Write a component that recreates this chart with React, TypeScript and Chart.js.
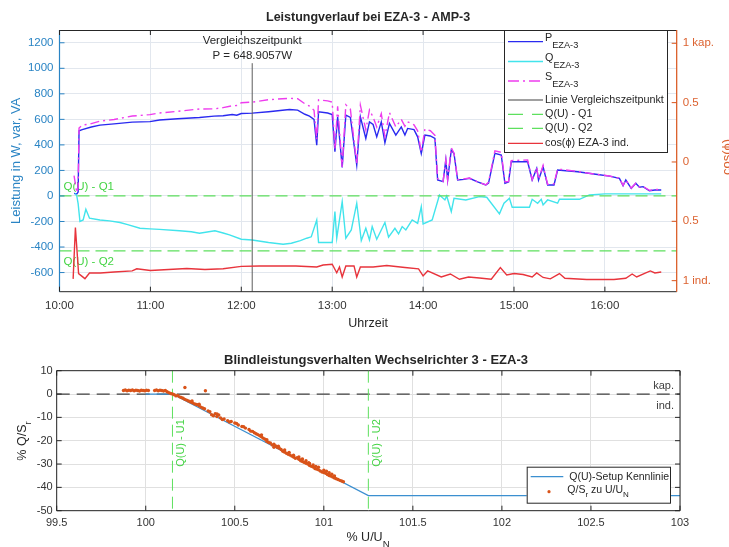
import React, { useEffect, useRef } from "react";
import { Chart, registerables } from "chart.js";

Chart.register(...registerables);

const FONT = "'Liberation Sans', Arial, Helvetica, sans-serif";

// ---------- top chart data ----------
const timeMin = 0;
const timeMax = 6.79;
const timeTicks = [0, 1, 2, 3, 4, 5, 6];
const timeLabels = ["10:00", "11:00", "12:00", "13:00", "14:00", "15:00", "16:00"];
const powerMin = -750;
const powerMax = 1300;
const powerTicks = [-600, -400, -200, 0, 200, 400, 600, 800, 1000, 1200];
const cosMin = -1.093;
const cosMax = 1.112;
const cosTicks = [-1, -0.5, 0, 0.5, 1];
const cosTickLabels = ["1 ind.", "0.5", "0", "0.5", "1 kap."];

const pTime = [0.16, 0.19, 0.205, 0.215, 0.25, 0.35, 0.445, 0.6, 0.8, 0.995,
  1.1, 1.3, 1.54, 1.7, 1.8, 1.9, 1.95, 2.0, 2.12, 2.3,
  2.53, 2.62, 2.7, 2.75, 2.8, 2.83, 2.85, 2.95, 3.0, 3.03,
  3.06, 3.11, 3.15, 3.2, 3.27, 3.31, 3.37, 3.41, 3.45, 3.49,
  3.54, 3.58, 3.63, 3.7, 3.76, 3.8, 3.83, 3.9, 3.94, 3.98,
  4.02, 4.08, 4.13, 4.16, 4.22, 4.25, 4.27, 4.31, 4.34, 4.38,
  4.45, 4.51, 4.6, 4.69, 4.72, 4.79, 4.86, 4.9, 4.94, 4.97,
  5.15, 5.2, 5.25, 5.27, 5.32, 5.37, 5.44, 5.48, 5.7, 5.9,
  6.05, 6.16, 6.2, 6.23, 6.29, 6.34, 6.38, 6.42, 6.49, 6.55, 6.62];
const pValues = [20, 15, 30, 510, 520, 540, 555, 565, 578, 582,
  595, 605, 615, 625, 628, 638, 632, 646, 649, 660,
  677, 672, 640, 625, 600, 398, 659, 650, 638, 346,
  620, 224, 633, 615, 242, 620, 451, 580, 560, 463,
  580, 417, 568, 477, 541, 477, 529, 520, 463, 333,
  477, 470, 451, 125, 112, 281, 125, 359, 333, 125,
  130, 138, 110, 86, 100, 333, 320, 99, 110, 268,
  268, 125, 216, 125, 229, 86, 86, 203, 190, 170,
  155, 138, 80, 125, 60, 99, 68, 73, 41, 47, 47];
const sValues = [160, 25, 65, 532, 554, 567, 586, 599, 626, 637,
  650, 663, 681, 682, 692, 707, 708, 730, 735, 754,
  765, 762, 722, 704, 671, 440, 753, 745, 735, 367,
  703, 228, 714, 680, 249, 711, 517, 674, 617, 540,
  644, 466, 653, 540, 600, 546, 581, 557, 510, 343,
  525, 511, 475, 135, 114, 283, 125, 379, 334, 129,
  134, 140, 110, 87, 108, 354, 342, 111, 112, 277,
  282, 128, 223, 129, 239, 91, 95, 211, 192, 170,
  156, 139, 82, 126, 62, 100, 70, 75, 44, 50, 50];

const qTime = [0.17, 0.19, 0.205, 0.225, 0.26, 0.29, 0.33, 0.445, 0.55, 0.665,
  0.75, 0.885, 0.995, 1.1, 1.32, 1.45, 1.54, 1.71, 1.8, 1.87,
  2.0, 2.12, 2.3, 2.46, 2.55, 2.65, 2.72, 2.77, 2.83, 2.85,
  3.0, 3.03, 3.05, 3.11, 3.15, 3.21, 3.27, 3.32, 3.37, 3.41,
  3.44, 3.49, 3.58, 3.62, 3.69, 3.73, 3.77, 3.81, 3.88, 3.94,
  3.98, 4.0, 4.1, 4.18, 4.24, 4.26, 4.31, 4.34, 4.47, 4.62,
  4.7, 4.84, 4.89, 4.95, 4.98, 5.17, 5.2, 5.26, 5.3, 5.32,
  5.37, 5.48, 5.5, 5.72, 5.83, 6.0, 6.3, 6.62];
const qValues = [21, 0, -60, -200, -188, -104, -174, -188, -195, -208,
  -225, -253, -258, -262, -273, -280, -292, -273, -290, -305,
  -339, -345, -365, -378, -370, -350, -331, -320, -188, -365,
  -365, -122, -331, -45, -331, -266, -57, -349, -253, -344,
  -240, -339, -208, -323, -253, -297, -240, -266, -188, -214,
  -83, -219, -188, 8, -31, 0, -122, -18, -31, -5,
  -10, -140, -57, -18, -88, -88, -26, -57, -26, -70,
  -31, -57, -26, -26, 8, 16, 16, 16];

const cosTime = [0.15, 0.175, 0.21, 0.28, 0.33, 0.45, 0.6, 0.8, 0.85, 1.0,
  1.2, 1.4, 1.6, 1.8, 2.0, 2.2, 2.4, 2.6, 2.83, 2.9,
  3.0, 3.05, 3.08, 3.11, 3.15, 3.24, 3.27, 3.31, 3.45, 3.6, 3.8,
  3.95, 4.0, 4.05, 4.2, 4.3, 4.4, 4.5, 4.62, 4.75, 4.85,
  4.92, 5.0, 5.1, 5.2, 5.25, 5.32, 5.4, 5.5, 5.56, 5.8,
  6.1, 6.23, 6.3, 6.35, 6.45, 6.5, 6.55, 6.62];
const cosValues = [-0.985, -0.553, -0.94, -0.983, -0.935, -0.935, -0.927, -0.918, -0.9, -0.914,
  -0.906, -0.897, -0.906, -0.9, -0.88, -0.876, -0.876, -0.876, -0.885, -0.868,
  -0.862, -0.933, -0.885, -0.969, -0.876, -0.876, -0.969, -0.885, -0.885, -0.872, -0.889,
  -0.9, -0.96, -0.918, -0.969, -0.944, -0.988, -0.969, -0.977, -0.988, -0.89,
  -0.952, -0.94, -0.948, -0.969, -0.935, -0.973, -0.985, -0.94, -0.98, -0.99,
  -0.99, -0.98, -0.944, -0.969, -0.935, -0.918, -0.935, -0.927];

const compareTime = 2.12;
const compareP = 648.9057;
const compareLineTop = 1040;
const q1Level = 0;
const q2Level = -430;

// ---------- bottom chart data ----------
const uMin = 99.5;
const uMax = 103;
const uTicks = [99.5, 100, 100.5, 101, 101.5, 102, 102.5, 103];
const qsMin = -50;
const qsMax = 10;
const qsTicks = [-50, -40, -30, -20, -10, 0, 10];
const u1Level = 100.15;
const u2Level = 101.25;
const kennU = [100, 100.15, 101.25, 103];
const kennQ = [0, 0, -43.5, -43.5];
const measU = [99.875, 99.885, 99.895, 99.905, 99.915, 99.925, 99.935, 99.945, 99.955, 99.965,
  99.975, 99.985, 99.995, 100.005, 100.015,
  100.05, 100.06, 100.07, 100.08, 100.09, 100.1, 100.11, 100.12, 100.13, 100.14,
  100.15, 100.16, 100.17, 100.18, 100.19, 100.2, 100.22, 100.335,
  100.21, 100.22, 100.23, 100.24, 100.25, 100.26, 100.27, 100.28, 100.29, 100.3,
  100.31, 100.32, 100.33, 100.35, 100.36, 100.37, 100.38, 100.39, 100.4, 100.41,
  100.42, 100.44, 100.46, 100.48, 100.5, 100.52, 100.54, 100.56, 100.58, 100.6,
  100.61, 100.62, 100.63, 100.64, 100.65, 100.66, 100.67, 100.68, 100.69, 100.7,
  100.71, 100.72, 100.73, 100.74, 100.75, 100.76, 100.77, 100.78, 100.79, 100.8,
  100.81, 100.82, 100.83, 100.84, 100.85, 100.86, 100.87, 100.88, 100.89, 100.9,
  100.91, 100.92, 100.93, 100.94, 100.95, 100.96, 100.97, 100.98, 100.99, 101.0,
  101.01, 101.02, 101.03, 101.04, 101.05, 101.06, 101.07, 101.08, 101.09, 101.1, 101.11,
  100.72, 100.78, 100.83, 100.86, 100.88, 100.9, 100.92, 100.94, 100.97, 101.0,
  101.03, 101.06, 100.65, 100.68, 100.4, 100.3, 100.26,
  100.43, 100.47, 100.51, 100.55, 100.59, 100.745, 100.805, 100.875, 100.915, 100.955, 101.015, 101.045];
const measQ = [1.5, 1.7, 1.4, 1.6, 1.5, 1.7, 1.4, 1.6, 1.5, 1.3,
  1.6, 1.5, 1.4, 1.6, 1.5,
  1.5, 1.7, 1.4, 1.6, 1.5, 1.3, 1.5, 1.0, 0.6, 0.2,
  0.0, -0.3, -0.8, -0.6, -1.2, -1.5, 2.8, 1.4,
  -1.8, -2.3, -2.6, -3.0, -3.3, -3.6, -4.1, -4.4, -4.6, -5.0,
  -5.6, -6.0, -6.3, -7.2, -7.6, -8.9, -9.3, -8.4, -9.6, -9.0,
  -10.2, -10.7, -11.4, -11.8, -12.4, -13.3, -13.9, -14.6, -15.2, -16.0,
  -16.6, -17.0, -17.4, -17.9, -18.3, -18.9, -19.4, -20.3, -20.8, -21.0,
  -21.8, -21.5, -22.3, -22.9, -23.2, -23.8, -24.5, -24.9, -25.4, -25.8,
  -26.1, -26.6, -27.0, -27.5, -27.3, -28.0, -28.6, -28.9, -29.3, -29.7,
  -30.0, -30.6, -31.0, -31.3, -31.9, -32.2, -32.5, -33.0, -33.4, -33.6,
  -34.0, -34.5, -34.9, -35.2, -35.6, -36.0, -36.3, -36.6, -37.0, -37.3, -37.6,
  -22.8, -24.0, -26.2, -27.0, -27.8, -28.6, -29.8, -30.4, -31.4, -32.6,
  -33.7, -35.1, -17.5, -19.6, -8.5, -4.4, -3.0,
  -10.9, -12.0, -12.6, -14.0, -15.9, -22.4, -25.0, -28.0, -29.4, -31.0, -33.1, -34.4];

// ---------- styles ----------
const C_TEXT = "#262626";
const C_TICK = "#333333";
const C_LEFT = "#2a84c4";
const C_RIGHT = "#d95319";
const C_RIGHT_TXT = "#dc6230";
const C_GRID = "#e2e7ee";
const C_GRID2 = "#e0e0e0";
const C_P = "#2a2af0";
const C_Q = "#42e4ec";
const C_S = "#ee3cee";
const C_VLINE = "#5c5c5c";
const C_GREEN = "#5ee05e";
const C_GREEN_TXT = "#44d444";
const C_COS = "#e8343c";
const C_KENN = "#3b8fd0";
const C_MEAS = "#d95319";

function xy(xs: number[], ys: number[]) {
  return xs.map((x, i) => ({ x, y: ys[i] }));
}

function seg(ctx: CanvasRenderingContext2D, x1: number, y1: number, x2: number, y2: number, color: string, w = 1, dash: number[] = []) {
  ctx.save();
  ctx.strokeStyle = color;
  ctx.lineWidth = w;
  ctx.setLineDash(dash);
  ctx.beginPath();
  ctx.moveTo(x1, y1);
  ctx.lineTo(x2, y2);
  ctx.stroke();
  ctx.restore();
}

function rich(ctx: CanvasRenderingContext2D, parts: Array<[string, boolean]>, x: number, y: number, size: number, subSize: number, subDy: number, color: string, align: "left" | "center" | "right" = "left", bold = false) {
  const b = bold ? "bold " : "";
  let total = 0;
  const widths = parts.map(([s, sub]) => {
    ctx.font = `${b}${sub ? subSize : size}px ${FONT}`;
    const w = ctx.measureText(s).width;
    total += w;
    return w;
  });
  let cx = align === "left" ? x : align === "center" ? x - total / 2 : x - total;
  ctx.fillStyle = color;
  ctx.textBaseline = "middle";
  ctx.textAlign = "left";
  parts.forEach(([s, sub], i) => {
    ctx.font = `${b}${sub ? subSize : size}px ${FONT}`;
    ctx.fillText(s, cx, sub ? y + subDy : y);
    cx += widths[i];
  });
}

function rotated(ctx: CanvasRenderingContext2D, x: number, y: number, fn: () => void) {
  ctx.save();
  ctx.translate(x, y);
  ctx.rotate(-Math.PI / 2);
  fn();
  ctx.restore();
}

function drawTopLegend(ctx: CanvasRenderingContext2D) {
  const x0 = 504, y0 = 30, w = 163, h = 122;
  ctx.save();
  ctx.fillStyle = "#ffffff";
  ctx.fillRect(x0, y0, w, h);
  ctx.strokeStyle = C_TEXT;
  ctx.lineWidth = 1;
  ctx.strokeRect(x0 + 0.5, y0 + 0.5, w, h);
  const rows: Array<{ parts: Array<[string, boolean]>; color: string; dash: number[]; ly: number; sub: boolean }> = [
    { parts: [["P", false], ["EZA-3", true]], color: C_P, dash: [], ly: 41.7, sub: true },
    { parts: [["Q", false], ["EZA-3", true]], color: C_Q, dash: [], ly: 61.5, sub: true },
    { parts: [["S", false], ["EZA-3", true]], color: C_S, dash: [11, 4, 2, 4], ly: 81, sub: true },
    { parts: [["Linie Vergleichszeitpunkt", false]], color: "#808080", dash: [], ly: 100, sub: false },
    { parts: [["Q(U) - Q1", false]], color: C_GREEN, dash: [15, 9], ly: 114.3, sub: false },
    { parts: [["Q(U) - Q2", false]], color: C_GREEN, dash: [15, 9], ly: 128.3, sub: false },
    { parts: [["cos(\u03d5) EZA-3 ind.", false]], color: C_COS, dash: [], ly: 143.3, sub: false },
  ];
  for (const r of rows) {
    seg(ctx, 508, r.ly, 543, r.ly, r.color, 1.3, r.dash);
    rich(ctx, r.parts, 545, r.sub ? r.ly - 3.5 : r.ly, 10.8, 9.2, 7, C_TEXT);
  }
  ctx.restore();
}

const topPlugin = {
  id: "topExtras",
  beforeDatasetsDraw(chart: any) {
    const ctx: CanvasRenderingContext2D = chart.ctx;
    const a = chart.chartArea;
    const ys = chart.scales.y;
    ctx.save();
    ctx.fillStyle = C_GREEN_TXT;
    ctx.font = `11.5px ${FONT}`;
    ctx.textAlign = "left";
    ctx.textBaseline = "middle";
    ctx.fillText("Q(U) - Q1", a.left + 4, ys.getPixelForValue(q1Level) - 9);
    ctx.fillText("Q(U) - Q2", a.left + 4, ys.getPixelForValue(q2Level) + 11);
    ctx.restore();
  },
  afterDraw(chart: any) {
    const ctx: CanvasRenderingContext2D = chart.ctx;
    const a = chart.chartArea;
    const xs = chart.scales.x, ys = chart.scales.y, y2 = chart.scales.y2;
    ctx.save();
    const vx = xs.getPixelForValue(compareTime);
    ctx.fillStyle = C_TEXT;
    ctx.font = `11.5px ${FONT}`;
    ctx.textAlign = "center";
    ctx.textBaseline = "middle";
    ctx.fillText("Vergleichszeitpunkt", vx, 40.5);
    ctx.fillText(`P = ${compareP.toFixed(4)}W`, vx, 56);
    seg(ctx, a.left, a.top + 0.5, a.right, a.top + 0.5, C_TEXT);
    seg(ctx, a.left, a.bottom, a.right, a.bottom, C_TEXT);
    seg(ctx, a.left, a.top, a.left, a.bottom, C_LEFT, 1.2);
    seg(ctx, a.right, a.top, a.right, a.bottom, C_RIGHT, 1.2);
    for (const v of timeTicks) {
      const px = xs.getPixelForValue(v);
      seg(ctx, px, a.bottom, px, a.bottom - 5, C_TEXT);
      seg(ctx, px, a.top, px, a.top + 5, C_TEXT);
    }
    for (const v of powerTicks) {
      const py = ys.getPixelForValue(v);
      seg(ctx, a.left, py, a.left + 5, py, C_LEFT);
    }
    for (const v of cosTicks) {
      const py = y2.getPixelForValue(v);
      seg(ctx, a.right - 5, py, a.right, py, C_RIGHT);
    }
    drawTopLegend(ctx);
    ctx.fillStyle = C_TEXT;
    ctx.font = `bold 12.5px ${FONT}`;
    ctx.textAlign = "center";
    ctx.textBaseline = "middle";
    ctx.fillText("Leistungverlauf bei EZA-3 - AMP-3", (a.left + a.right) / 2, 18);
    ctx.font = `12.5px ${FONT}`;
    ctx.fillStyle = C_TEXT;
    ctx.fillText("Uhrzeit", (a.left + a.right) / 2, 324);
    rotated(ctx, 16, (a.top + a.bottom) / 2, () => {
      ctx.fillStyle = C_LEFT;
      ctx.font = `13px ${FONT}`;
      ctx.textAlign = "center";
      ctx.textBaseline = "middle";
      ctx.fillText("Leistung in W, var, VA", 0, 0);
    });
    rotated(ctx, 727, 157, () => {
      ctx.fillStyle = C_RIGHT_TXT;
      ctx.font = `13px ${FONT}`;
      ctx.textAlign = "center";
      ctx.textBaseline = "middle";
      ctx.fillText("cos(\u03d5)", 0, 0);
    });
    ctx.restore();
  },
};

const botPlugin = {
  id: "botExtras",
  beforeDatasetsDraw(chart: any) {
    const ctx: CanvasRenderingContext2D = chart.ctx;
    const a = chart.chartArea;
    const xs = chart.scales.x, ys = chart.scales.y;
    ctx.save();
    const y0 = ys.getPixelForValue(0);
    seg(ctx, a.left, y0, a.right, y0, "#404040", 1.2, [13, 7]);
    const x1 = xs.getPixelForValue(u1Level);
    const x2 = xs.getPixelForValue(u2Level);
    seg(ctx, x1, a.top, x1, a.bottom, C_GREEN, 1, [12, 6]);
    seg(ctx, x2, a.top, x2, a.bottom, C_GREEN, 1, [12, 6]);
    for (const px of [x1, x2]) {
      rotated(ctx, px + 9, 108, () => {
        ctx.fillStyle = C_GREEN_TXT;
        ctx.font = `11px ${FONT}`;
        ctx.textAlign = "center";
        ctx.textBaseline = "middle";
        ctx.fillText(px === x1 ? "Q(U) - U1" : "Q(U) - U2", 0, 0);
      });
    }
    ctx.fillStyle = "#404040";
    ctx.font = `11px ${FONT}`;
    ctx.textAlign = "right";
    ctx.textBaseline = "middle";
    ctx.fillText("kap.", a.right - 6, y0 - 8);
    ctx.fillText("ind.", a.right - 6, y0 + 11.5);
    ctx.restore();
  },
  afterDraw(chart: any) {
    const ctx: CanvasRenderingContext2D = chart.ctx;
    const a = chart.chartArea;
    const xs = chart.scales.x, ys = chart.scales.y;
    ctx.save();
    seg(ctx, a.left, a.top, a.right, a.top, C_TEXT);
    seg(ctx, a.left, a.bottom, a.right, a.bottom, C_TEXT);
    seg(ctx, a.left, a.top, a.left, a.bottom, C_TEXT);
    seg(ctx, a.right, a.top, a.right, a.bottom, C_TEXT);
    for (const v of uTicks) {
      const px = xs.getPixelForValue(v);
      seg(ctx, px, a.bottom, px, a.bottom - 5, C_TEXT);
      seg(ctx, px, a.top, px, a.top + 5, C_TEXT);
    }
    for (const v of qsTicks) {
      const py = ys.getPixelForValue(v);
      seg(ctx, a.left, py, a.left + 5, py, C_TEXT);
      seg(ctx, a.right - 5, py, a.right, py, C_TEXT);
    }
    const lx = 526.7, ly = 131.7, lw = 143.3, lh = 36;
    ctx.fillStyle = "#ffffff";
    ctx.fillRect(lx, ly, lw, lh);
    ctx.strokeStyle = C_TEXT;
    ctx.lineWidth = 1;
    ctx.strokeRect(lx + 0.5, ly + 0.5, lw, lh);
    seg(ctx, 530.7, 141.7, 563.3, 141.7, C_KENN, 1.3);
    rich(ctx, [["Q(U)-Setup Kennlinie", false]], 569.3, 141.7, 10.5, 8, 5, C_TEXT);
    ctx.fillStyle = C_MEAS;
    ctx.beginPath();
    ctx.arc(549, 156.7, 1.6, 0, Math.PI * 2);
    ctx.fill();
    rich(ctx, [["Q/S", false], ["r", true], [" zu U/U", false], ["N", true]], 567.3, 155, 10.5, 8, 5, C_TEXT);
    rich(ctx, [["Blindleistungsverhalten Wechselrichter 3 - EZA-3", false]], 376, 25.7, 13, 10, 5, C_TEXT, "center", true);
    rich(ctx, [["% U/U", false], ["N", true]], 368, 203, 12.5, 9.5, 6, C_TEXT, "center");
    rotated(ctx, 22.7, 106, () => {
      rich(ctx, [["% Q/S", false], ["r", true]], 0, 0, 12.5, 9.5, 6, C_TEXT, "center");
    });
    ctx.restore();
  },
};

function makeTop(canvas: HTMLCanvasElement) {
  const lineDs = (data: any, color: string, order: number, extra: any = {}) => ({
    data, borderColor: color, backgroundColor: color, borderWidth: 1.4, showLine: true,
    pointRadius: 0, tension: 0, order, yAxisID: "y", ...extra,
  });
  return new Chart(canvas, {
    type: "scatter",
    data: {
      datasets: [
        lineDs(xy(pTime, pValues), C_P, 7),
        lineDs(xy(qTime, qValues), C_Q, 6),
        lineDs(xy(pTime, sValues), C_S, 5, { borderDash: [9, 4, 2, 4] }),
        lineDs(xy([compareTime, compareTime], [powerMin, compareLineTop]), C_VLINE, 4, { borderWidth: 1 }),
        lineDs(xy([timeMin, timeMax], [q1Level, q1Level]), C_GREEN, 3, { borderDash: [12, 6], borderWidth: 1.2 }),
        lineDs(xy([timeMin, timeMax], [q2Level, q2Level]), C_GREEN, 2, { borderDash: [12, 6], borderWidth: 1.2 }),
        lineDs(xy(cosTime, cosValues), C_COS, 1, { yAxisID: "y2" }),
      ],
    },
    options: {
      responsive: false,
      animation: false,
      devicePixelRatio: 1,
      events: [],
      layout: { padding: { top: 30, left: 0, right: 0, bottom: 0 } },
      plugins: { legend: { display: false }, tooltip: { enabled: false }, title: { display: false } },
      scales: {
        x: {
          type: "linear", min: timeMin, max: timeMax,
          afterBuildTicks: (s: any) => { s.ticks = timeTicks.map((v) => ({ value: v })); },
          afterFit: (s: any) => { s.height = 43.3; },
          ticks: {
            callback: (v: any) => timeLabels[timeTicks.indexOf(Number(v))] ?? "",
            color: C_TICK, font: { family: FONT, size: 11.5 }, padding: 7, maxRotation: 0, autoSkip: false,
          },
          grid: { color: C_GRID, drawTicks: false },
          border: { display: false },
        },
        y: {
          type: "linear", position: "left", min: powerMin, max: powerMax,
          afterBuildTicks: (s: any) => { s.ticks = powerTicks.map((v) => ({ value: v })); },
          afterFit: (s: any) => { s.width = 59.5; },
          ticks: { callback: (v: any) => String(v), color: C_LEFT, font: { family: FONT, size: 11.5 }, padding: 6, autoSkip: false },
          grid: { color: C_GRID, drawTicks: false },
          border: { display: false },
        },
        y2: {
          type: "linear", position: "right", min: cosMin, max: cosMax,
          afterBuildTicks: (s: any) => { s.ticks = cosTicks.map((v) => ({ value: v })); },
          afterFit: (s: any) => { s.width = 52.3; },
          ticks: {
            callback: (v: any) => cosTickLabels[cosTicks.indexOf(Number(v))] ?? "",
            color: C_RIGHT_TXT, font: { family: FONT, size: 11.5 }, padding: 6, autoSkip: false,
          },
          grid: { display: false, drawTicks: false },
          border: { display: false },
        },
      },
    } as any,
    plugins: [topPlugin],
  });
}

function makeBottom(canvas: HTMLCanvasElement) {
  return new Chart(canvas, {
    type: "scatter",
    data: {
      datasets: [
        {
          data: xy(measU, measQ), showLine: false, pointRadius: 1.7, pointBorderWidth: 0,
          backgroundColor: C_MEAS, borderColor: C_MEAS, order: 1,
        },
        {
          data: xy(kennU, kennQ), showLine: true, pointRadius: 0, borderColor: C_KENN,
          backgroundColor: C_KENN, borderWidth: 1.3, tension: 0, order: 2,
        },
      ],
    },
    options: {
      responsive: false,
      animation: false,
      devicePixelRatio: 1,
      events: [],
      layout: { padding: { top: 35.7, left: 0, right: 49, bottom: 0 } },
      plugins: { legend: { display: false }, tooltip: { enabled: false }, title: { display: false } },
      scales: {
        x: {
          type: "linear", min: uMin, max: uMax,
          afterBuildTicks: (s: any) => { s.ticks = uTicks.map((v) => ({ value: v })); },
          afterFit: (s: any) => { s.height = 36.3; },
          ticks: { callback: (v: any) => String(v), color: C_TICK, font: { family: FONT, size: 11 }, padding: 6, maxRotation: 0, autoSkip: false },
          grid: { color: C_GRID2, drawTicks: false },
          border: { display: false },
        },
        y: {
          type: "linear", min: qsMin, max: qsMax,
          afterBuildTicks: (s: any) => { s.ticks = qsTicks.map((v) => ({ value: v })); },
          afterFit: (s: any) => { s.width = 56.7; },
          ticks: { callback: (v: any) => String(v), color: C_TICK, font: { family: FONT, size: 11 }, padding: 4, autoSkip: false },
          grid: { color: C_GRID2, drawTicks: false },
          border: { display: false },
        },
      },
    } as any,
    plugins: [botPlugin],
  });
}

export default function App() {
  const topRef = useRef<HTMLCanvasElement>(null);
  const botRef = useRef<HTMLCanvasElement>(null);
  useEffect(() => {
    const c1 = makeTop(topRef.current!);
    const c2 = makeBottom(botRef.current!);
    return () => {
      c1.destroy();
      c2.destroy();
    };
  }, []);
  return (
    <div style={{ position: "fixed", left: 0, top: 0, width: 729, height: 547, background: "#ffffff", overflow: "hidden" }}>
      <canvas ref={topRef} width={729} height={335} style={{ position: "absolute", left: 0, top: 0 }} />
      <canvas ref={botRef} width={729} height={212} style={{ position: "absolute", left: 0, top: 335 }} />
    </div>
  );
}
